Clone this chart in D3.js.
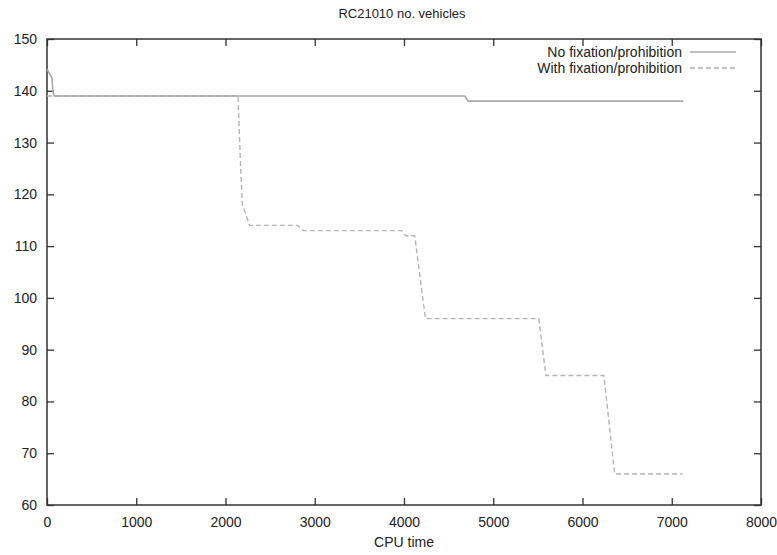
<!DOCTYPE html>
<html>
<head>
<meta charset="utf-8">
<script src="https://cdn.jsdelivr.net/npm/d3@7/dist/d3.min.js"></script>
<style>
  html, body { margin: 0; padding: 0; background: #fff; }
  svg { display: block; font-family: "Liberation Sans", Arial, Helvetica, sans-serif; }
</style>
</head>
<body>
<svg id="chart" width="777" height="555"></svg>
<script>
const title = "RC21010 no. vehicles";
const xLabel = "CPU time";
const seriesNames = ["No fixation/prohibition", "With fixation/prohibition"];
const xTicks = [0, 1000, 2000, 3000, 4000, 5000, 6000, 7000, 8000];
const yTicks = [60, 70, 80, 90, 100, 110, 120, 130, 140, 150];

const noFixTime = [0, 45, 55, 65, 80, 4680, 4720, 7130];
const noFixVal  = [144.2, 142.8, 142.6, 140, 139, 139, 138, 138];

const withFixTime = [0, 2140, 2170, 2190, 2270, 2810, 2870, 3970, 4020, 4120, 4240, 5510, 5590, 6240, 6300, 6360, 7120];
const withFixVal  = [139, 139, 125, 118, 114, 114, 113, 113, 112, 112, 96, 96, 85, 85, 75.5, 66, 66];

(function () {
const svg = d3.select("#chart");
const pl = 47, pr = 761, pt = 39, pb = 505;

const x = d3.scaleLinear().domain([0, 8000]).range([pl, pr]);
const y = d3.scaleLinear().domain([60, 150]).range([pb, pt]);

const axisColor = "#333";
const tickLen = 7;

// frame
svg.append("rect").attr("x", pl).attr("y", pt)
  .attr("width", pr - pl).attr("height", pb - pt)
  .attr("fill", "none").attr("stroke", axisColor).attr("stroke-width", 1.5);

// bottom axis (inward ticks)
const gx = svg.append("g").attr("transform", `translate(0,${pb})`)
  .call(d3.axisBottom(x).tickValues(xTicks).tickFormat(d3.format("d")).tickSizeInner(-tickLen).tickSizeOuter(0).tickPadding(12));
gx.select(".domain").remove();
gx.selectAll("line").attr("stroke", axisColor).attr("stroke-width", 1.3);
gx.selectAll("text").attr("font-size", 14).attr("fill", "#222");

// top axis ticks
const gxt = svg.append("g").attr("transform", `translate(0,${pt})`)
  .call(d3.axisTop(x).tickValues(xTicks).tickFormat("").tickSizeInner(-tickLen).tickSizeOuter(0));
gxt.select(".domain").remove();
gxt.selectAll("line").attr("stroke", axisColor).attr("stroke-width", 1.3);

// left axis
const gy = svg.append("g").attr("transform", `translate(${pl},0)`)
  .call(d3.axisLeft(y).tickValues(yTicks).tickFormat(d3.format("d")).tickSizeInner(-tickLen).tickSizeOuter(0).tickPadding(10));
gy.select(".domain").remove();
gy.selectAll("line").attr("stroke", axisColor).attr("stroke-width", 1.3);
gy.selectAll("text").attr("font-size", 14).attr("fill", "#222");

// right axis ticks
const gyr = svg.append("g").attr("transform", `translate(${pr},0)`)
  .call(d3.axisRight(y).tickValues(yTicks).tickFormat("").tickSizeInner(-tickLen).tickSizeOuter(0));
gyr.select(".domain").remove();
gyr.selectAll("line").attr("stroke", axisColor).attr("stroke-width", 1.3);

// lines
const line = d3.line().x(d => x(d[0])).y(d => y(d[1]));
const noFix = noFixTime.map((t, i) => [t, noFixVal[i]]);
const withFix = withFixTime.map((t, i) => [t, withFixVal[i]]);

svg.append("path").datum(withFix).attr("d", line)
  .attr("fill", "none").attr("stroke", "#b4b4b4").attr("stroke-width", 1.4)
  .attr("stroke-dasharray", "5,3");
svg.append("path").datum(noFix).attr("d", line)
  .attr("fill", "none").attr("stroke", "#a8a8a8").attr("stroke-width", 1.6);

// title and label
svg.append("text").attr("x", 402).attr("y", 18).attr("text-anchor", "middle")
  .attr("font-size", 13).attr("fill", "#222").text(title);
svg.append("text").attr("x", 404).attr("y", 547).attr("text-anchor", "middle")
  .attr("font-size", 14).attr("fill", "#222").text(xLabel);

// legend
const legend = svg.append("g");
const styles = [{dash: null, color: "#a8a8a8"}, {dash: "5,3", color: "#b4b4b4"}];
seriesNames.forEach((name, i) => {
  const ly = 52 + i * 16;
  legend.append("text").attr("x", 682).attr("y", ly + 5).attr("text-anchor", "end")
    .attr("font-size", 14).attr("fill", "#222").text(name);
  legend.append("line").attr("x1", 690).attr("x2", 736).attr("y1", ly).attr("y2", ly)
    .attr("stroke", styles[i].color).attr("stroke-width", 1.4)
    .attr("stroke-dasharray", styles[i].dash);
});
})();
</script>
</body>
</html>
